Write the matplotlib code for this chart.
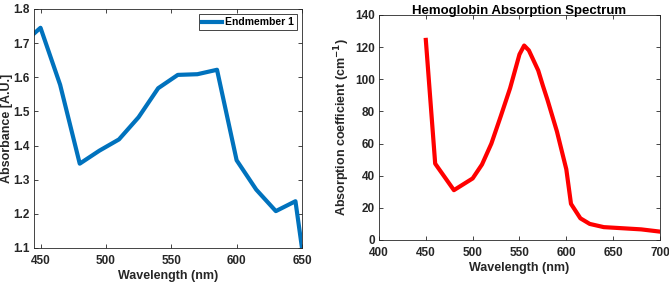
import matplotlib
matplotlib.use('Agg')
import matplotlib.pyplot as plt

plt.rcParams['font.family'] = ['Liberation Sans', 'DejaVu Sans']
plt.rcParams['font.weight'] = 'bold'
plt.rcParams['axes.labelweight'] = 'bold'
plt.rcParams['axes.titleweight'] = 'bold'

# endmember spectrum
wl_em = [445, 450, 465, 480, 495, 510, 525, 540, 555, 570, 585, 600, 615, 630, 645, 650]
absorb_em = [1.728, 1.745, 1.578, 1.347, 1.385, 1.418, 1.483, 1.568, 1.607, 1.609, 1.622,
             1.357, 1.271, 1.208, 1.237, 1.100]

# hemoglobin spectrum
wl_hb = [450, 460, 480, 500, 510, 520, 530, 540, 545, 550, 555, 560, 570, 575, 580,
         590, 600, 605, 615, 625, 640, 660, 680, 700]
coef_hb = [124.5, 47.5, 31.0, 38.3, 47.0, 60.0, 77.0, 94.5, 105.0, 115.5, 121.0, 118.0,
           105.5, 96.0, 87.0, 67.5, 44.0, 22.5, 13.5, 10.0, 8.0, 7.3, 6.6, 5.2]

ax_col = '#262626'

fig = plt.figure(figsize=(6.69, 2.83), dpi=100)


def style(ax):
    for s in ax.spines.values():
        s.set_color(ax_col)
        s.set_linewidth(0.6)
    ax.tick_params(direction='in', top=True, right=True, length=3, width=0.6,
                   colors=ax_col, labelsize=8.5)
    ax.tick_params(axis='x', pad=5)
    ax.tick_params(axis='y', pad=3)
    for lab in ax.get_xticklabels() + ax.get_yticklabels():
        lab.set_fontweight('bold')


ax1 = fig.add_axes([0.0508, 0.1237, 0.4006, 0.8445])
ax1.plot(wl_em, absorb_em, color='#0072BD', lw=3, label='Endmember 1')
ax1.set_xlim(445, 650)
ax1.set_ylim(1.1, 1.8)
ax1.set_xticks([450, 500, 550, 600, 650])
ax1.set_yticks([1.1, 1.2, 1.3, 1.4, 1.5, 1.6, 1.7, 1.8])
ax1.set_xlabel('Wavelength (nm)', fontsize=9, labelpad=2, color=ax_col)
ax1.set_ylabel('Absorbance [A.U.]', fontsize=9, labelpad=0, color=ax_col)
style(ax1)
leg = ax1.legend(loc='upper right', fontsize=7.5, fancybox=False, framealpha=1,
                 edgecolor=ax_col, handlelength=1.9, borderpad=0.3,
                 borderaxespad=0.5, handletextpad=0.3)
leg.get_frame().set_linewidth(0.6)
for t in leg.get_texts():
    t.set_fontweight('bold')

ax2 = fig.add_axes([0.5665, 0.152, 0.42, 0.795])
ax2.plot(wl_hb, coef_hb, color='#FF0000', lw=3)
ax2.set_xlim(400, 700)
ax2.set_ylim(0, 140)
ax2.set_xticks([400, 450, 500, 550, 600, 650, 700])
ax2.set_yticks([0, 20, 40, 60, 80, 100, 120, 140])
ax2.set_xlabel('Wavelength (nm)', fontsize=9, labelpad=2, color=ax_col)
ax2.set_ylabel('Absorption coefficient (cm$^{\\mathbf{-1}}$)', fontsize=9, labelpad=2, color=ax_col)
ax2.set_title('Hemoglobin Absorption Spectrum', fontsize=9.5, pad=1, color='black')
style(ax2)

fig.savefig('out.png', dpi=100)
